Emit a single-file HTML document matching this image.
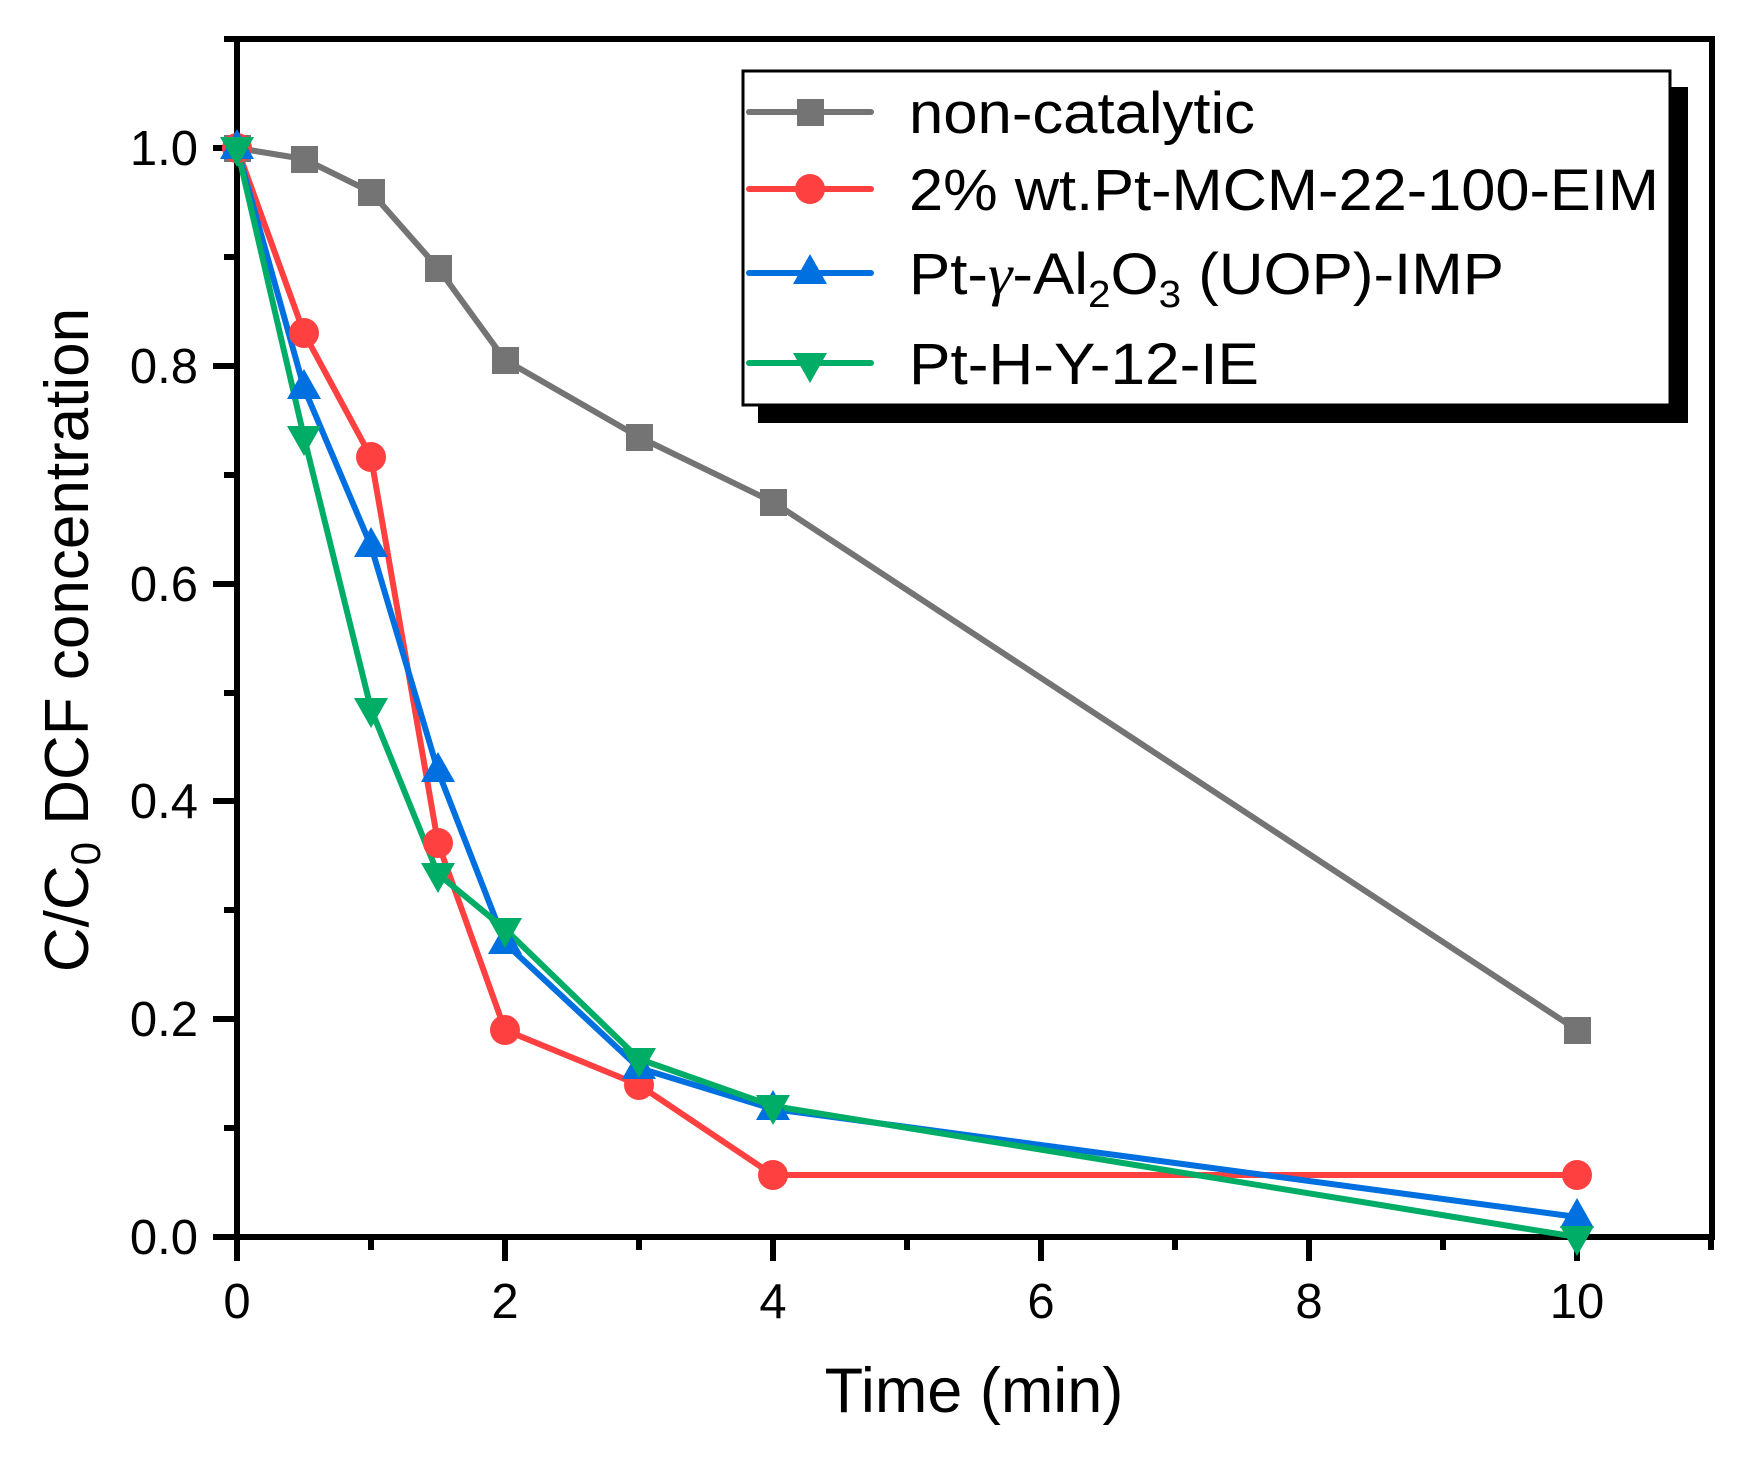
<!DOCTYPE html>
<html><head><meta charset="utf-8"><style>html,body{margin:0;padding:0;background:#fff}</style></head>
<body>
<svg width="1761" height="1455" viewBox="0 0 1761 1455" xmlns="http://www.w3.org/2000/svg" font-family="Liberation Sans, Arial, sans-serif">
<rect width="1761" height="1455" fill="#fff"/>
<g stroke="#000" stroke-width="6" fill="none">
<rect x="237" y="39" width="1475" height="1198"/>
<path d="M237 1237v24M505 1237v24M773 1237v24M1041 1237v24M1309 1237v24M1577 1237v24"/>
<path d="M371 1237v13M639 1237v13M907 1237v13M1175 1237v13M1443 1237v13M1711 1237v13"/>
<path d="M237 1237h-24M237 1019h-24M237 801h-24M237 584h-24M237 366h-24M237 148h-24"/>
<path d="M237 1128h-13M237 910h-13M237 693h-13M237 475h-13M237 257h-13M237 39h-13"/>
</g>
<g font-size="49" fill="#000" text-anchor="middle">
<text x="237" y="1318">0</text><text x="505" y="1318">2</text><text x="773" y="1318">4</text>
<text x="1041" y="1318">6</text><text x="1309" y="1318">8</text><text x="1577" y="1318">10</text>
</g>
<g font-size="49" fill="#000" text-anchor="end">
<text x="198" y="1254">0.0</text><text x="198" y="1036">0.2</text><text x="198" y="818">0.4</text>
<text x="198" y="601">0.6</text><text x="198" y="383">0.8</text><text x="198" y="165">1.0</text>
</g>
<text x="974" y="1412" font-size="63" text-anchor="middle">Time (min)</text>
<text transform="translate(88,640) rotate(-90)" font-size="62" text-anchor="middle">C/C<tspan font-size="42" dy="12">0</tspan><tspan dy="-12"> DCF concentration</tspan></text>

<g stroke-width="6" fill="none" stroke-linejoin="round">
<polyline stroke="#747474" points="237,148 304,159 371,192 438,268 505,360 639,437 773,502 1577,1030"/>
<polyline stroke="#ff4040" points="237,148 304,333 371,457 438,843 505,1030 639,1085 773,1175 1577,1175"/>
<polyline stroke="#0070e0" points="237,148 304,388 371,546 438,771 505,943 639,1068 773,1109 1577,1217"/>
<polyline stroke="#00ad66" points="237,148 304,437 371,709 438,874 505,929 639,1059 773,1106 1577,1237"/>
</g>
<g fill="#747474">
<rect x="224" y="135" width="27" height="27"/><rect x="291" y="146" width="27" height="27"/><rect x="358" y="179" width="27" height="27"/><rect x="425" y="255" width="27" height="27"/><rect x="492" y="347" width="27" height="27"/><rect x="626" y="424" width="27" height="27"/><rect x="760" y="489" width="27" height="27"/><rect x="1564" y="1017" width="27" height="27"/>
</g>
<g fill="#ff4040">
<circle cx="237" cy="148" r="15"/><circle cx="304" cy="333" r="15"/><circle cx="371" cy="457" r="15"/><circle cx="438" cy="843" r="15"/><circle cx="505" cy="1030" r="15"/><circle cx="639" cy="1085" r="15"/><circle cx="773" cy="1175" r="15"/><circle cx="1577" cy="1175" r="15"/>
</g>
<g fill="#0070e0">
<path d="M237 129l17 30h-34z"/><path d="M304 369l17 30h-34z"/><path d="M371 527l17 30h-34z"/><path d="M438 752l17 30h-34z"/><path d="M505 924l17 30h-34z"/><path d="M639 1049l17 30h-34z"/><path d="M773 1090l17 30h-34z"/><path d="M1577 1198l17 30h-34z"/>
</g>
<g fill="#00ad66">
<path d="M237 167l17-30h-34z"/><path d="M304 456l17-30h-34z"/><path d="M371 728l17-30h-34z"/><path d="M438 893l17-30h-34z"/><path d="M505 948l17-30h-34z"/><path d="M639 1078l17-30h-34z"/><path d="M773 1125l17-30h-34z"/><path d="M1577 1256l17-30h-34z"/>
</g>

<rect x="758" y="87" width="930" height="336" fill="#000"/>
<rect x="743" y="71" width="927" height="334" fill="#fff" stroke="#000" stroke-width="3"/>
<g stroke-width="6" stroke-linecap="round">
<line x1="749" y1="112" x2="871" y2="112" stroke="#747474"/>
<line x1="749" y1="189" x2="871" y2="189" stroke="#ff4040"/>
<line x1="749" y1="273" x2="871" y2="273" stroke="#0070e0"/>
<line x1="749" y1="363" x2="871" y2="363" stroke="#00ad66"/>
</g>
<rect x="797" y="99" width="27" height="27" fill="#747474"/>
<circle cx="810" cy="189" r="15" fill="#ff4040"/>
<path d="M810 254l17 30h-34z" fill="#0070e0"/>
<path d="M810 383l17-30h-34z" fill="#00ad66"/>
<g font-size="58" fill="#000">
<text x="909" y="133" textLength="346" lengthAdjust="spacingAndGlyphs">non-catalytic</text>
<text x="909" y="210" textLength="750" lengthAdjust="spacingAndGlyphs">2% wt.Pt-MCM-22-100-EIM</text>
<text x="909" y="294" textLength="595" lengthAdjust="spacingAndGlyphs">Pt-<tspan font-family="Liberation Serif, serif" font-style="italic">γ</tspan>-Al<tspan font-size="38" dy="13">2</tspan><tspan dy="-13">O</tspan><tspan font-size="38" dy="13">3</tspan><tspan dy="-13"> (UOP)-IMP</tspan></text>
<text x="909" y="384" textLength="350" lengthAdjust="spacingAndGlyphs">Pt-H-Y-12-IE</text>
</g>
</svg>
</body></html>
